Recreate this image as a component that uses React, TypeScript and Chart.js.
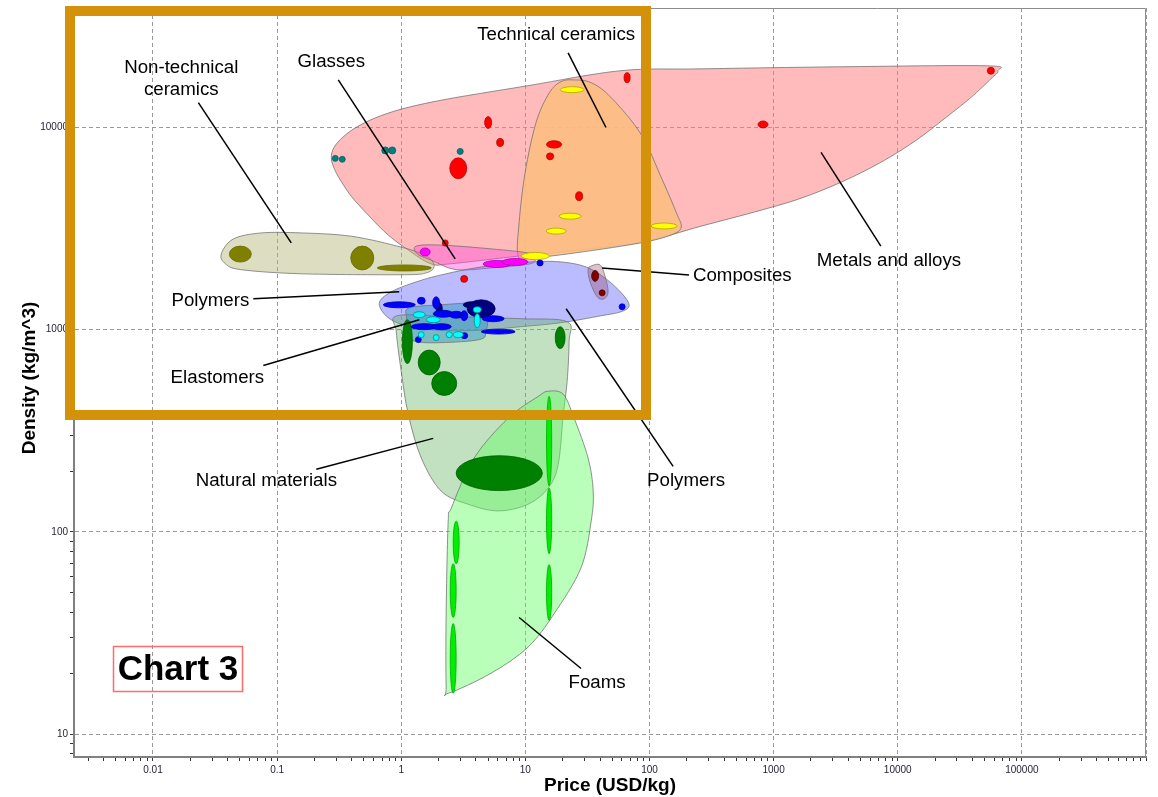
import React, { useEffect, useRef } from "react";
import { Chart, registerables } from "chart.js";

Chart.register(...registerables);

// [price USD/kg, density kg/m^3]
type Pt = [number, number];
// [price low, price high, density low, density high]
type Range = [number, number, number, number];

// Axis limits
const PRICE_MIN = 0.00231;
const PRICE_MAX = 1e6;
const DENSITY_MIN = 7.7;
const DENSITY_MAX = 39000;

// ---- Family envelopes (outline vertices) ----
const metalsOutline: Pt[] = [
  [0.273, 7120], [0.36, 9250], [0.69, 11450], [1.84, 13430], [10.5, 16100],
  [59, 19100], [260, 19500], [3490, 19970], [51300, 20200], [64100, 19100],
  [56200, 17400], [38800, 14060], [24400, 11200], [14000, 8630], [7320, 6730],
  [3490, 5360], [1663, 4470], [792, 3900], [260, 3250], [85.6, 2710],
  [19.4, 2420], [8.75, 2310], [2.53, 2120], [1.74, 2115], [1.14, 2477],
  [0.786, 2938], [0.542, 3690], [0.36, 4950],
];
const technicalCeramicsOutline: Pt[] = [
  [24.3, 17200], [33.9, 16660], [49.1, 14060], [85.6, 9250], [124, 5680],
  [164, 3810], [180, 3210], [149, 2940], [85.6, 2690], [28.1, 2420],
  [11.1, 2260], [8.75, 2310], [8.91, 3400], [9.96, 6000], [12.2, 10600],
  [15.6, 14860], [19.4, 16860],
];
const nonTechnicalCeramicsOutline: Pt[] = [
  [0.0355, 2370], [0.0444, 2810], [0.0746, 3010], [0.1566, 3010], [0.395, 2900],
  [1, 2560], [1.59, 2320], [1.84, 2070], [1.59, 1910], [1, 1870],
  [0.157, 1890], [0.0515, 1980], [0.0383, 2120],
];
const glassesOutline: Pt[] = [
  [1.32, 2590], [2.1, 2620], [5.3, 2510], [10.7, 2390], [12.0, 2240],
  [10.7, 2110], [5.3, 2020], [2.77, 1980], [1.74, 2210], [1.35, 2370],
];
const polymersOutline: Pt[] = [
  [0.665, 1343], [0.83, 1539], [1.32, 1723], [2.1, 1866], [4.41, 2043],
  [11.1, 2163], [19.4, 2163], [30.9, 2043], [44.7, 1783], [61.3, 1487],
  [68.5, 1313], [59, 1227], [40.8, 1172], [19.4, 1083], [9.25, 1035],
  [3.66, 989], [1.45, 1011], [0.83, 1120],
];
const naturalOutline: Pt[] = [
  [0.929, 1172], [2.53, 1159], [9.25, 1133], [21.7, 1095], [22.5, 873],
  [21.7, 554], [20.2, 381], [18.4, 216], [15.3, 165], [10.5, 137],
  [6.04, 127], [3.46, 137], [2.1, 159], [1.45, 232], [1.14, 381],
  [1, 621], [0.912, 978],
];
const foamsOutline: Pt[] = [
  [15.3, 496], [20.2, 479], [24.7, 365], [32.0, 232], [35.2, 159],
  [33.9, 113], [28.1, 66.5], [17.1, 39.5], [10.5, 26.9], [5.3, 20.0],
  [2.39, 15.9], [2.3, 17.1], [2.3, 39.5], [2.39, 113], [2.53, 131],
  [3.87, 232], [7.27, 365], [12.7, 468],
];
const elastomersOutline: Pt[] = [
  [1.16, 1283], [2.1, 1328], [4.41, 1359], [5.02, 1283], [4.83, 978],
  [4.25, 893], [2.1, 863], [1.32, 873], [1.14, 945], [1.1, 1159],
];
const compositesOutline: Pt[] = [
  [33.9, 2066], [40.0, 2090], [44.0, 1824], [46.4, 1539], [43.1, 1421],
  [37.9, 1454], [33.2, 1723], [32.0, 1980],
];

// ---- Individual materials (price range x density range) ----
const metalsRed: Range[] = [
  [62.4, 69.8, 16670, 18660], [4.7, 5.35, 9890, 11330], [5.87, 6.68, 8060, 8830],
  [2.46, 3.37, 5580, 7080], [14.8, 19.6, 7910, 8600], [14.8, 16.9, 6920, 7490],
  [25.4, 28.9, 4350, 4810], [2.14, 2.39, 2590, 2780], [3.01, 3.43, 1714, 1855],
  [749, 901, 9950, 10770], [52700, 60100, 18350, 19860],
];
const metalsTeal: Range[] = [
  [0.278, 0.311, 6800, 7280], [0.317, 0.354, 6730, 7200], [0.697, 0.793, 7400, 8020],
  [0.793, 0.903, 7400, 8020], [2.82, 3.16, 7360, 7880],
];
const technicalCeramics: Range[] = [
  [19.1, 29.7, 14870, 15920], [18.7, 28.1, 3520, 3770], [14.7, 21.3, 2970, 3180],
  [9.25, 15.6, 2220, 2410], [103, 167, 3150, 3370],
];
const nonTechnicalCeramics: Range[] = [
  [0.0412, 0.062, 2160, 2590], [0.392, 0.601, 1975, 2590], [0.641, 1.75, 1952, 2090],
];
const glasses: Range[] = [
  [1.42, 1.71, 2315, 2535], [4.57, 7.68, 2032, 2200], [6.5, 10.5, 2078, 2250],
];
const naturalMaterials: Range[] = [
  [1.02, 1.23, 680, 1120], [1.37, 2.06, 597, 793], [1.76, 2.8, 473, 621],
  [17.4, 20.9, 806, 1035], [2.77, 13.7, 160, 238],
];
const polymersDark: Range[] = [
  [3.4, 5.71, 1146, 1405], [1.91, 2.14, 1186, 1359], [3.16, 4.25, 1283, 1374],
];
const polymers: Range[] = [
  [0.716, 1.3, 1283, 1374], [1.35, 1.56, 1336, 1446], [1.79, 2.04, 1268, 1455],
  [1.81, 2.62, 1152, 1247], [2.43, 3.16, 1140, 1233], [3.01, 3.43, 1107, 1241],
  [4.49, 6.75, 1095, 1172], [4.41, 8.27, 951, 1006], [1.2, 1.95, 1000, 1071],
  [1.75, 2.53, 1000, 1071], [1.3, 1.45, 863, 924], [3.04, 3.43, 903, 967],
  [12.4, 13.9, 2066, 2213], [56.9, 63.7, 1255, 1343],
];
const elastomers: Range[] = [
  [1.25, 1.56, 1146, 1227], [1.59, 2.06, 1083, 1159], [3.8, 4.41, 1213, 1298],
  [3.87, 4.33, 1023, 1199], [1.37, 1.53, 913, 978], [1.81, 2.02, 883, 945],
  [2.3, 2.58, 913, 978], [2.62, 3.16, 913, 978],
];
const foams: Range[] = [
  [14.8, 16.3, 169, 468], [14.8, 16.3, 78.0, 165], [14.8, 16.3, 36.5, 68.8],
  [2.62, 2.93, 69.6, 113], [2.48, 2.77, 37.7, 69.6], [2.48, 2.77, 15.9, 35.2],
];
const composites: Range[] = [
  [34.2, 38.9, 1733, 1964], [39.3, 43.9, 1470, 1574],
];

// ---- Family labels: text, anchor, leader line ----
type Note = { lines: string[]; at: Pt; from: Pt; to: Pt; align: CanvasTextAlign };
const familyLabels: Note[] = [
  { lines: ["Technical ceramics"], at: [17.7, 28700], from: [22.1, 23400], to: [44.6, 10000], align: "center" },
  { lines: ["Glasses"], at: [0.273, 21100], from: [0.311, 17200], to: [2.72, 2240], align: "center" },
  { lines: ["Non-technical", "ceramics"], at: [0.0169, 17500], from: [0.0232, 13270], to: [0.13, 2685], align: "center" },
  { lines: ["Metals and alloys"], at: [8500, 2190], from: [2410, 7540], to: [7310, 2590], align: "center" },
  { lines: ["Composites"], at: [224, 1845], from: [41.5, 2020], to: [208, 1866], align: "left" },
  { lines: ["Polymers"], at: [0.029, 1389], from: [0.0643, 1422], to: [0.963, 1539], align: "center" },
  { lines: ["Elastomers"], at: [0.033, 580], from: [0.0774, 665], to: [1.4, 1120], align: "center" },
  { lines: ["Natural materials"], at: [0.0819, 178], from: [0.207, 204], to: [1.81, 290], align: "center" },
  { lines: ["Polymers"], at: [197, 178], from: [21.3, 1269], to: [155, 211], align: "center" },
  { lines: ["Foams"], at: [37.8, 18.0], from: [8.91, 37.7], to: [28.1, 21.1], align: "center" },
];

// Draw styles
const envelopeStyles = [
  { points: metalsOutline, fill: "rgba(255,120,120,0.5)" },
  { points: technicalCeramicsOutline, fill: "rgba(252,190,130,0.9)" },
  { points: nonTechnicalCeramicsOutline, fill: "rgba(180,180,120,0.45)" },
  { points: glassesOutline, fill: "rgba(255,80,220,0.45)" },
  { points: polymersOutline, fill: "rgba(120,120,255,0.5)" },
  { points: naturalOutline, fill: "rgba(100,180,100,0.4)" },
  { points: foamsOutline, fill: "rgba(100,255,100,0.45)" },
  { points: elastomersOutline, fill: "rgba(50,150,200,0.5)" },
  { points: compositesOutline, fill: "rgba(150,50,80,0.3)" },
];
const bubbleStyles = [
  { ranges: metalsRed, fill: "#ff0000", stroke: "#b40000" },
  { ranges: metalsTeal, fill: "#008080", stroke: "#005f5f" },
  { ranges: technicalCeramics, fill: "#ffff00", stroke: "#a8a800" },
  { ranges: nonTechnicalCeramics, fill: "#808000", stroke: "#6a6a00" },
  { ranges: glasses, fill: "#ff00ff", stroke: "#b000b0" },
  { ranges: naturalMaterials, fill: "#008000", stroke: "#006000" },
  { ranges: polymersDark, fill: "#000080", stroke: "#000050" },
  { ranges: polymers, fill: "#0000ff", stroke: "#0000a8" },
  { ranges: elastomers, fill: "#00ffff", stroke: "#008b8b" },
  { ranges: foams, fill: "#00ee00", stroke: "#00a800" },
  { ranges: composites, fill: "#800000", stroke: "#500000" },
];

const FONT = "'Liberation Sans', Arial, Helvetica, sans-serif";

function logTicks(min: number, max: number): number[] {
  const out: number[] = [];
  for (let e = Math.floor(Math.log10(min)); e <= Math.ceil(Math.log10(max)); e++) {
    for (let m = 1; m <= 9; m++) {
      const v = parseFloat((m * Math.pow(10, e)).toPrecision(10));
      if (v >= min * 0.9999 && v <= max * 1.0001) out.push(v);
    }
  }
  return out;
}
function isDecade(v: number | undefined): boolean {
  if (v === undefined || v <= 0) return false;
  const l = Math.log10(v);
  return Math.abs(l - Math.round(l)) < 1e-6;
}

// Closed Catmull-Rom outline through the given pixel points
function traceClosed(ctx: CanvasRenderingContext2D, pts: number[][]) {
  const n = pts.length;
  const k = 1 / 6;
  ctx.beginPath();
  ctx.moveTo(pts[0][0], pts[0][1]);
  for (let i = 0; i < n; i++) {
    const p0 = pts[(i - 1 + n) % n];
    const p1 = pts[i];
    const p2 = pts[(i + 1) % n];
    const p3 = pts[(i + 2) % n];
    ctx.bezierCurveTo(
      p1[0] + (p2[0] - p0[0]) * k, p1[1] + (p2[1] - p0[1]) * k,
      p2[0] - (p3[0] - p1[0]) * k, p2[1] - (p3[1] - p1[1]) * k,
      p2[0], p2[1]
    );
  }
  ctx.closePath();
}

const ashbyPlugin = {
  id: "ashbyLayers",
  beforeDatasetsDraw(chart: any) {
    const { ctx, chartArea: a } = chart;
    const xs = chart.scales.x;
    const ys = chart.scales.y;
    ctx.save();
    ctx.beginPath();
    ctx.rect(a.left, a.top, a.right - a.left, a.bottom - a.top);
    ctx.clip();
    for (const env of envelopeStyles) {
      const pts = env.points.map(([p, d]) => [xs.getPixelForValue(p), ys.getPixelForValue(d)]);
      traceClosed(ctx, pts);
      ctx.fillStyle = env.fill;
      ctx.fill();
      ctx.lineWidth = 1;
      ctx.strokeStyle = "rgba(110,110,110,0.75)";
      ctx.stroke();
    }
    for (const fam of bubbleStyles) {
      for (const r of fam.ranges) {
        const x1 = xs.getPixelForValue(r[0]);
        const x2 = xs.getPixelForValue(r[1]);
        const y1 = ys.getPixelForValue(r[3]);
        const y2 = ys.getPixelForValue(r[2]);
        ctx.beginPath();
        ctx.ellipse((x1 + x2) / 2, (y1 + y2) / 2, Math.abs(x2 - x1) / 2, Math.abs(y2 - y1) / 2, 0, 0, Math.PI * 2);
        ctx.fillStyle = fam.fill;
        ctx.fill();
        ctx.lineWidth = 0.8;
        ctx.strokeStyle = fam.stroke;
        ctx.stroke();
      }
    }
    ctx.restore();
  },
  afterDraw(chart: any) {
    const { ctx, chartArea: a } = chart;
    const xs = chart.scales.x;
    const ys = chart.scales.y;
    ctx.save();

    // frame on top and right
    ctx.strokeStyle = "#8c8c8c";
    ctx.lineWidth = 1;
    ctx.beginPath();
    ctx.moveTo(a.left, a.top + 0.5);
    ctx.lineTo(a.right - 0.5, a.top + 0.5);
    ctx.lineTo(a.right - 0.5, a.bottom);
    ctx.stroke();

    // leaders and family names
    ctx.fillStyle = "#000";
    ctx.strokeStyle = "#000";
    ctx.lineWidth = 1.5;
    ctx.font = `18.7px ${FONT}`;
    ctx.textBaseline = "middle";
    for (const n of familyLabels) {
      ctx.beginPath();
      ctx.moveTo(xs.getPixelForValue(n.from[0]), ys.getPixelForValue(n.from[1]));
      ctx.lineTo(xs.getPixelForValue(n.to[0]), ys.getPixelForValue(n.to[1]));
      ctx.stroke();
      const tx = xs.getPixelForValue(n.at[0]);
      const ty = ys.getPixelForValue(n.at[1]);
      ctx.textAlign = n.align;
      const lh = 22;
      n.lines.forEach((s, i) => {
        ctx.fillText(s, tx, ty + (i - (n.lines.length - 1) / 2) * lh);
      });
    }

    // caption box
    ctx.strokeStyle = "#ff6a6a";
    ctx.lineWidth = 1.5;
    ctx.strokeRect(113.5, 646.5, 129, 45);
    ctx.fillStyle = "#000";
    ctx.font = `bold 35px ${FONT}`;
    ctx.textAlign = "center";
    ctx.textBaseline = "middle";
    ctx.fillText("Chart 3", 178, 670);

    // highlight frame
    ctx.strokeStyle = "#d4920a";
    ctx.lineWidth = 10;
    ctx.strokeRect(70, 11, 576, 404);

    // axis titles
    ctx.fillStyle = "#000";
    ctx.font = `bold 19px ${FONT}`;
    ctx.textAlign = "center";
    ctx.textBaseline = "middle";
    ctx.fillText("Price (USD/kg)", (a.left + a.right) / 2, 786);
    ctx.translate(30, 378);
    ctx.rotate(-Math.PI / 2);
    ctx.fillText("Density (kg/m^3)", 0, 0);
    ctx.restore();
  },
};

function axisOptions(min: number, max: number, horizontal: boolean) {
  return {
    type: "logarithmic" as const,
    min,
    max,
    afterBuildTicks: (s: any) => {
      s.ticks = logTicks(min, max).map((v) => ({ value: v }));
    },
    afterFit: (s: any) => {
      if (horizontal) s.height = 40;
      else s.width = 74;
    },
    ticks: {
      autoSkip: false,
      maxRotation: 0,
      minRotation: 0,
      padding: horizontal ? 3 : 2,
      color: "#1e1e32",
      font: { family: FONT, size: 10 },
      callback: (v: any) => {
        const n = Number(v);
        if (!isDecade(n) || n >= max * 0.999) return "";
        return String(n);
      },
    },
    grid: {
      drawOnChartArea: true,
      drawTicks: true,
      tickLength: 4,
      lineWidth: 1,
      color: (c: any) => (isDecade(c.tick?.value) ? "#9a9a9a" : "rgba(0,0,0,0)"),
      tickColor: "#333",
    },
    border: { display: true, color: "#808080", width: 2, dash: [4, 3] },
  };
}

export default function App() {
  const canvasRef = useRef<HTMLCanvasElement>(null);

  useEffect(() => {
    const canvas = canvasRef.current;
    if (!canvas) return;
    const chart = new Chart(canvas, {
      type: "scatter",
      data: { datasets: [] },
      options: {
        animation: false,
        responsive: false,
        devicePixelRatio: 1,
        layout: { padding: { top: 5, right: 12, left: 0, bottom: 0 } },
        plugins: { legend: { display: false }, tooltip: { enabled: false } },
        scales: {
          x: axisOptions(PRICE_MIN, PRICE_MAX, true) as any,
          y: axisOptions(DENSITY_MIN, DENSITY_MAX, false) as any,
        },
      },
      plugins: [ashbyPlugin],
    });
    return () => chart.destroy();
  }, []);

  return (
    <div style={{ position: "absolute", left: 0, top: 0, width: 1158, height: 797, background: "#fff" }}>
      <canvas ref={canvasRef} width={1158} height={797} style={{ display: "block", width: 1158, height: 797 }} />
    </div>
  );
}
